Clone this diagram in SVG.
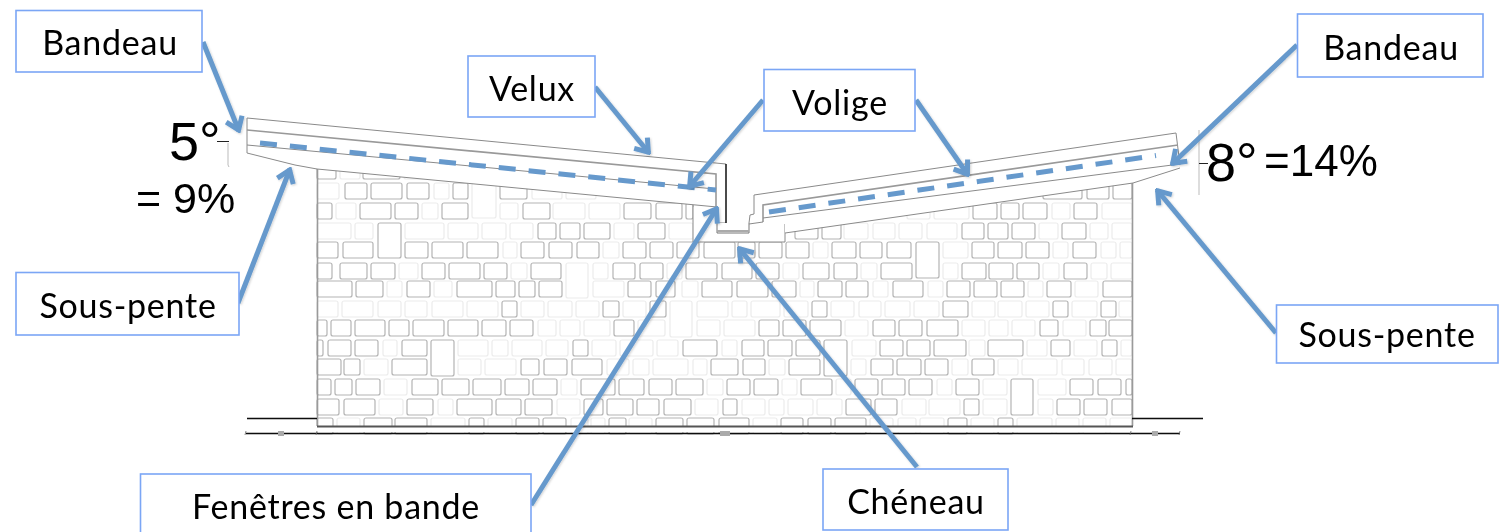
<svg xmlns="http://www.w3.org/2000/svg" width="1499" height="532" viewBox="0 0 1499 532">
<style>
.d,.l{height:16px;rx:2px;fill:#fff;stroke-width:1.2}
.d{stroke:#b4b4b4}
.l{stroke:#ececec}
.t36{height:36px}
.t55{height:35px}
.roof{fill:#fff;stroke:none}
.ln{fill:none;stroke:#8a8a8a;stroke-width:1}
.dk{fill:none;stroke:#555;stroke-width:1.4}
.k{fill:none;stroke:#111;stroke-width:1.5}
.dash{fill:none;stroke:#6699cc;stroke-width:5;stroke-dasharray:17 13}
.box{fill:#fff;stroke:#7ba6f5;stroke-width:1.6}
.lab{font-family:"Lato","Liberation Sans",sans-serif;font-size:34px;letter-spacing:.75px;fill:#000;text-anchor:middle}
.big{font-family:"Liberation Sans",Arial,sans-serif;fill:#000}
.arr{fill:none;stroke:#6699cc;stroke-width:5;marker-end:url(#ah)}
</style>
<defs>
<marker id="ah" markerUnits="userSpaceOnUse" viewBox="-18 -12 20 24" refX="0" refY="0" markerWidth="20" markerHeight="24" orient="auto">
<path d="M-13,-8.5 L-1,0 L-13,8.5" fill="none" stroke="#6699cc" stroke-width="5"/>
</marker>
<filter id="soft" x="-2%" y="-2%" width="104%" height="104%"><feGaussianBlur stdDeviation="0.4"/></filter>
<filter id="sh" x="-10%" y="-10%" width="120%" height="120%"><feDropShadow dx="1" dy="1" stdDeviation="1.2" flood-color="#000" flood-opacity="0.18"/></filter>
</defs>

<g id="facade" filter="url(#soft)">
<g id="bricks">
<g transform="translate(0,163)"><rect class="d" x="317" width="19"/><rect class="l" x="340" width="20"/><rect class="d" x="363" width="37"/><rect class="l" x="404" width="30"/></g>
<g transform="translate(0,183)"><rect class="l" x="317" width="22"/><rect class="d" x="345" width="22"/><rect class="d" x="371" width="31"/><rect class="d" x="407" width="22"/><rect class="l" x="434" width="15"/><rect class="d" x="453" width="15"/><rect class="l t55" x="472" width="24"/><rect class="d" x="500" width="27"/><rect class="l" x="532" width="30"/><rect class="l" x="566" width="30"/><rect class="d" x="1043" width="39"/><rect class="d" x="1087" width="22"/><rect class="d" x="1113" width="19"/></g>
<g transform="translate(0,203)"><rect class="d" x="317" width="15"/><rect class="l" x="336" width="20"/><rect class="d" x="360" width="31"/><rect class="d" x="395" width="23"/><rect class="l" x="422" width="16"/><rect class="d" x="442" width="26"/><rect class="l" x="500" width="18"/><rect class="d" x="523" width="27"/><rect class="l" x="553" width="32"/><rect class="l" x="589" width="31"/><rect class="d" x="624" width="27"/><rect class="d" x="656" width="26"/><rect class="d" x="686" width="7"/><rect class="l" x="907" width="23"/><rect class="l" x="934" width="35"/><rect class="d" x="973" width="24"/><rect class="d" x="1001" width="18"/><rect class="d" x="1023" width="24"/><rect class="l" x="1052" width="18"/><rect class="d" x="1074" width="23"/><rect class="l" x="1102" width="30"/></g>
<g transform="translate(0,223)"><rect class="l" x="317" width="34"/><rect class="l" x="355" width="18"/><rect class="d t55" x="378" width="23"/><rect class="l" x="405" width="39"/><rect class="l" x="448" width="30"/><rect class="l" x="482" width="24"/><rect class="l" x="510" width="23"/><rect class="d" x="538" width="18"/><rect class="d" x="560" width="20"/><rect class="d" x="584" width="26"/><rect class="l" x="614" width="20"/><rect class="d" x="638" width="27"/><rect class="l" x="669" width="24"/><rect class="d" x="795" width="23"/><rect class="d" x="822" width="19"/><rect class="l" x="844" width="24"/><rect class="l" x="873" width="22"/><rect class="l" x="899" width="23"/><rect class="l" x="927" width="30"/><rect class="d" x="962" width="22"/><rect class="d" x="988" width="20"/><rect class="d" x="1012" width="23"/><rect class="l" x="1039" width="19"/><rect class="d" x="1062" width="24"/><rect class="l" x="1090" width="18"/><rect class="l" x="1112" width="20"/></g>
<g transform="translate(0,242)"><rect class="d" x="317" width="21"/><rect class="d" x="343" width="30"/><rect class="d" x="405" width="23"/><rect class="d" x="432" width="31"/><rect class="d" x="467" width="31"/><rect class="l" x="503" width="14"/><rect class="d" x="521" width="23"/><rect class="d" x="549" width="23"/><rect class="d" x="577" width="22"/><rect class="l" x="603" width="16"/><rect class="d" x="623" width="23"/><rect class="d" x="650" width="23"/><rect class="d" x="677" width="22"/><rect class="d" x="704" width="31"/><rect class="d" x="738" width="17"/><rect class="d" x="759" width="23"/><rect class="d" x="786" width="23"/><rect class="l" x="813" width="15"/><rect class="d" x="832" width="24"/><rect class="d" x="860" width="22"/><rect class="d" x="887" width="24"/><rect class="d t36" x="916" width="23"/><rect class="l" x="943" width="25"/><rect class="d" x="972" width="22"/><rect class="d" x="998" width="24"/><rect class="d" x="1026" width="23"/><rect class="l" x="1053" width="15"/><rect class="d" x="1073" width="23"/><rect class="l" x="1101" width="15"/><rect class="l" x="1120" width="12"/></g>
<g transform="translate(0,263)"><rect class="d" x="317" width="15"/><rect class="d" x="340" width="27"/><rect class="d" x="371" width="24"/><rect class="l" x="399" width="19"/><rect class="d" x="422" width="23"/><rect class="d" x="449" width="31"/><rect class="d" x="484" width="23"/><rect class="l" x="511" width="16"/><rect class="d" x="531" width="30"/><rect class="l t55" x="566" width="22"/><rect class="l" x="593" width="15"/><rect class="d" x="613" width="22"/><rect class="d" x="640" width="23"/><rect class="l" x="667" width="15"/><rect class="d" x="686" width="31"/><rect class="d" x="722" width="30"/><rect class="d" x="756" width="23"/><rect class="l" x="783" width="16"/><rect class="d" x="803" width="26"/><rect class="d" x="834" width="23"/><rect class="l" x="861" width="16"/><rect class="d" x="881" width="31"/><rect class="l" x="943" width="15"/><rect class="d" x="962" width="24"/><rect class="d" x="989" width="24"/><rect class="d" x="1017" width="22"/><rect class="l" x="1043" width="16"/><rect class="d" x="1064" width="23"/><rect class="l" x="1091" width="16"/><rect class="l" x="1111" width="21"/></g>
<g transform="translate(0,281)"><rect class="d" x="317" width="35"/><rect class="d" x="356" width="27"/><rect class="l" x="387" width="15"/><rect class="d" x="407" width="23"/><rect class="l" x="434" width="18"/><rect class="d" x="457" width="35"/><rect class="d" x="496" width="19"/><rect class="d" x="519" width="16"/><rect class="d" x="539" width="23"/><rect class="l" x="593" width="31"/><rect class="d" x="628" width="23"/><rect class="d" x="656" width="19"/><rect class="l" x="682" width="16"/><rect class="d" x="702" width="30"/><rect class="d" x="737" width="31"/><rect class="d" x="772" width="24"/><rect class="l" x="800" width="14"/><rect class="d" x="818" width="24"/><rect class="d" x="846" width="22"/><rect class="l" x="873" width="15"/><rect class="d" x="893" width="30"/><rect class="l" x="928" width="15"/><rect class="d" x="947" width="23"/><rect class="d" x="974" width="23"/><rect class="d" x="1001" width="23"/><rect class="l" x="1028" width="15"/><rect class="d" x="1047" width="24"/><rect class="l" x="1075" width="23"/><rect class="d" x="1103" width="29"/></g>
<g transform="translate(0,301)"><rect class="l" x="317" width="21"/><rect class="l" x="342" width="31"/><rect class="l" x="378" width="23"/><rect class="l" x="405" width="22"/><rect class="l" x="432" width="31"/><rect class="l" x="467" width="31"/><rect class="d" x="502" width="15"/><rect class="l" x="521" width="23"/><rect class="l" x="548" width="24"/><rect class="l" x="576" width="23"/><rect class="d" x="603" width="16"/><rect class="l" x="623" width="23"/><rect class="d" x="650" width="16"/><rect class="l t36" x="670" width="22"/><rect class="l" x="697" width="31"/><rect class="l" x="732" width="15"/><rect class="l" x="751" width="29"/><rect class="l" x="784" width="24"/><rect class="d" x="812" width="15"/><rect class="l" x="831" width="23"/><rect class="l" x="859" width="22"/><rect class="l" x="885" width="25"/><rect class="l" x="914" width="25"/><rect class="d" x="943" width="25"/><rect class="l" x="972" width="23"/><rect class="l" x="998" width="24"/><rect class="l" x="1026" width="23"/><rect class="d" x="1053" width="15"/><rect class="l" x="1072" width="25"/><rect class="d" x="1101" width="15"/><rect class="l" x="1119" width="13"/></g>
<g transform="translate(0,320)"><rect class="d" x="317" width="10"/><rect class="d" x="331" width="20"/><rect class="d" x="355" width="30"/><rect class="d" x="389" width="20"/><rect class="d" x="413" width="31"/><rect class="d" x="448" width="30"/><rect class="d" x="482" width="24"/><rect class="d" x="510" width="23"/><rect class="l" x="538" width="18"/><rect class="l" x="560" width="20"/><rect class="l" x="584" width="26"/><rect class="d" x="614" width="20"/><rect class="l" x="638" width="27"/><rect class="l" x="697" width="23"/><rect class="l" x="724" width="31"/><rect class="d" x="759" width="20"/><rect class="d" x="783" width="23"/><rect class="d" x="810" width="31"/><rect class="l" x="845" width="23"/><rect class="d" x="873" width="22"/><rect class="d" x="899" width="23"/><rect class="d" x="927" width="31"/><rect class="l" x="962" width="23"/><rect class="l" x="989" width="19"/><rect class="l" x="1012" width="23"/><rect class="d" x="1040" width="18"/><rect class="l" x="1063" width="23"/><rect class="d" x="1090" width="16"/><rect class="d" x="1109" width="23"/></g>
<g transform="translate(0,340)"><rect class="d" x="317" width="6"/><rect class="d" x="328" width="23"/><rect class="d" x="355" width="23"/><rect class="l" x="383" width="14"/><rect class="d" x="402" width="25"/><rect class="d t36" x="431" width="23"/><rect class="l" x="458" width="30"/><rect class="l" x="492" width="16"/><rect class="l" x="512" width="30"/><rect class="l" x="546" width="22"/><rect class="d" x="573" width="15"/><rect class="l" x="592" width="24"/><rect class="l" x="620" width="33"/><rect class="l" x="657" width="21"/><rect class="d" x="683" width="34"/><rect class="l" x="722" width="15"/><rect class="d" x="742" width="22"/><rect class="d" x="768" width="24"/><rect class="d" x="796" width="24"/><rect class="d t36" x="824" width="23"/><rect class="l" x="852" width="24"/><rect class="d" x="880" width="23"/><rect class="d" x="907" width="23"/><rect class="d" x="934" width="32"/><rect class="l" x="969" width="16"/><rect class="d" x="988" width="35"/><rect class="l" x="1027" width="20"/><rect class="d" x="1051" width="19"/><rect class="l" x="1074" width="23"/><rect class="d" x="1102" width="15"/><rect class="l" x="1121" width="11"/></g>
<g transform="translate(0,359)"><rect class="d" x="317" width="24"/><rect class="d" x="344" width="16"/><rect class="l" x="364" width="24"/><rect class="d" x="392" width="35"/><rect class="l" x="458" width="23"/><rect class="l" x="485" width="31"/><rect class="d" x="521" width="18"/><rect class="d" x="544" width="23"/><rect class="d" x="572" width="30"/><rect class="l" x="607" width="22"/><rect class="l" x="633" width="16"/><rect class="l" x="653" width="35"/><rect class="l" x="693" width="14"/><rect class="d" x="711" width="27"/><rect class="d" x="743" width="22"/><rect class="l" x="769" width="16"/><rect class="d" x="789" width="31"/><rect class="l" x="851" width="15"/><rect class="d" x="871" width="22"/><rect class="d" x="897" width="24"/><rect class="d" x="925" width="23"/><rect class="l" x="952" width="16"/><rect class="d" x="972" width="22"/><rect class="l" x="998" width="20"/><rect class="l" x="1022" width="35"/><rect class="l" x="1062" width="22"/><rect class="l" x="1089" width="23"/><rect class="l" x="1116" width="16"/></g>
<g transform="translate(0,379)"><rect class="d" x="317" width="14"/><rect class="d" x="335" width="17"/><rect class="d" x="356" width="24"/><rect class="l" x="384" width="23"/><rect class="d" x="412" width="26"/><rect class="d" x="442" width="27"/><rect class="d" x="473" width="28"/><rect class="d" x="505" width="24"/><rect class="d" x="533" width="24"/><rect class="l" x="561" width="16"/><rect class="d" x="581" width="34"/><rect class="d" x="619" width="25"/><rect class="d" x="649" width="23"/><rect class="d" x="676" width="27"/><rect class="l" x="707" width="16"/><rect class="d" x="727" width="23"/><rect class="d" x="754" width="24"/><rect class="l" x="782" width="15"/><rect class="d" x="801" width="31"/><rect class="l" x="836" width="15"/><rect class="d" x="855" width="23"/><rect class="d" x="882" width="23"/><rect class="d" x="909" width="23"/><rect class="l" x="937" width="15"/><rect class="d" x="956" width="23"/><rect class="l" x="983" width="24"/><rect class="d t36" x="1011" width="22"/><rect class="l" x="1038" width="28"/><rect class="d" x="1070" width="23"/><rect class="d" x="1098" width="23"/><rect class="d" x="1126" width="6"/></g>
<g transform="translate(0,399)"><rect class="d" x="317" width="22"/><rect class="d" x="344" width="31"/><rect class="l" x="379" width="24"/><rect class="d" x="407" width="26"/><rect class="l" x="438" width="15"/><rect class="d" x="457" width="35"/><rect class="d" x="496" width="25"/><rect class="d" x="525" width="27"/><rect class="l" x="557" width="23"/><rect class="d" x="584" width="19"/><rect class="d" x="607" width="26"/><rect class="d" x="637" width="22"/><rect class="d" x="664" width="27"/><rect class="l" x="695" width="23"/><rect class="d" x="723" width="14"/><rect class="l" x="742" width="23"/><rect class="l" x="769" width="15"/><rect class="l" x="788" width="25"/><rect class="l" x="817" width="25"/><rect class="d" x="846" width="25"/><rect class="d" x="875" width="22"/><rect class="l" x="902" width="24"/><rect class="l" x="929" width="31"/><rect class="d" x="964" width="15"/><rect class="l" x="983" width="24"/><rect class="l" x="1038" width="15"/><rect class="d" x="1057" width="23"/><rect class="d" x="1084" width="23"/><rect class="d" x="1112" width="20"/></g>
<g transform="translate(0,418)"><rect class="d" x="317" width="16"/><rect class="l" x="337" width="23"/><rect class="d" x="364" width="28"/><rect class="d" x="395" width="32"/><rect class="l" x="431" width="34"/><rect class="d" x="469" width="15"/><rect class="l" x="488" width="24"/><rect class="d" x="516" width="23"/><rect class="d" x="543" width="23"/><rect class="l" x="571" width="17"/><rect class="l" x="591" width="14"/><rect class="d" x="609" width="17"/><rect class="l" x="629" width="23"/><rect class="d" x="656" width="27"/><rect class="d" x="687" width="27"/><rect class="d" x="719" width="30"/><rect class="l" x="753" width="24"/><rect class="d" x="781" width="22"/><rect class="d" x="808" width="23"/><rect class="d" x="835" width="31"/><rect class="l" x="870" width="23"/><rect class="l" x="898" width="18"/><rect class="l" x="920" width="24"/><rect class="d" x="948" width="19"/><rect class="l" x="971" width="23"/><rect class="d" x="998" width="15"/><rect class="l" x="1017" width="35"/><rect class="l" x="1056" width="23"/><rect class="l" x="1083" width="23"/><rect class="l" x="1110" width="22"/></g>
</g>
<rect x="300" y="426" width="850" height="6" fill="#fff"/>
<path class="ln" d="M317.5,168V426M1132.5,183V426" style="stroke:#9a9a9a;stroke-width:1.6"/>
<path class="dk" d="M317,426.5H1133" style="stroke-width:1.8"/>
<path class="k" d="M247,418.5H317M1132,418.5H1203" style="stroke-width:1.4"/>
<path class="k" d="M246,433.5H1180" style="stroke-width:1.4"/>
<path d="M278,431h6v5h-6zM720,431h10v5h-10zM1152,431h6v5h-6z" fill="#aaa"/>
<path class="ln" d="M246,431l-1,4M317,431l-1,4M1131,431l-1,4M1180,431l-1,4" style="stroke:#666;stroke-width:.8"/>
<path class="ln" d="M217,141.5H229" style="stroke:#222"/>
<path class="ln" d="M228,143V165l1,2" style="stroke:#bbb"/>
<path class="ln" d="M1199,130l0,65" style="stroke:#bbb"/>
<path class="ln" d="M1199,163.5H1208" style="stroke:#222"/>
<g id="roof-left">
<path class="roof" d="M247,118L726,164V223H717V207L317,169L247,153Z"/>
<path class="ln" d="M247,118L726,164M247,118V153L295,165L317,169L717,207"/>
<path class="ln" d="M247,130L716,174V207" style="stroke:#999;stroke-width:1.6"/>
<path class="ln" d="M247,145L715,189"/>
<path class="k" d="M726,164V223.5H717V207"/>
</g>
<g id="gutter">
<path class="roof" d="M693,207L717,209V223H748V223L785,218V242H693Z"/>
<path class="ln" d="M693,205V242H785V217"/>
<path class="ln" d="M717,223V233H749V223" style="stroke:#777"/>
<path class="ln" d="M717,231H749" style="stroke:#aaa;stroke-width:2"/>
</g>
<g id="roof-right">
<path class="roof" d="M754,195L1176,133L1180,168L1133,183L785,233V224H750V215L754,214Z"/>
<path class="ln" d="M749,223L750,215L754,214V195L1176,133L1180,165"/>
<path class="ln" d="M763,222V205L1178,145" style="stroke:#999;stroke-width:1.6"/>
<path class="ln" d="M749,224L763,222M763,218L1180,164"/>
<path class="ln" d="M785,233L1133,183L1180,168"/>
</g>
<path class="dash" d="M260,143L716,190"/>
<path class="dash" d="M769,212L1156,155.500"/>
</g>

<g id="connectors" filter="url(#sh)">
<path class="arr" d="M203,42L239,131"/>
<path class="arr" d="M238,303L290,169"/>
<path class="arr" d="M595,87L649,153"/>
<path class="arr" d="M763,100L689,187"/>
<path class="arr" d="M916,100L968,175"/>
<path class="arr" d="M1297,45L1172,164"/>
<path class="arr" d="M1276,333L1157,190"/>
<path class="arr" d="M531,505L717,208"/>
<path class="arr" d="M917,467L739,248"/>
</g>

<g id="angle-left"><text class="big" x="169" y="160" font-size="54">5°</text><text class="big" x="136" y="213" font-size="43">= 9%</text></g>
<g id="angle-right"><text class="big" x="1206" y="181" font-size="54">8°</text><text class="big" x="1264" y="176" font-size="44">=14%</text></g>

<g id="n-bandeau-left"><rect class="box" x="16" y="10.500" width="186" height="61.500"/><text class="lab" x="110" y="55">Bandeau</text></g>
<g id="n-velux"><rect class="box" x="468" y="56" width="127" height="61"/><text class="lab" x="532" y="101">Velux</text></g>
<g id="n-volige"><rect class="box" x="764" y="69.500" width="151" height="61.500"/><text class="lab" x="840" y="115">Volige</text></g>
<g id="n-bandeau-right"><rect class="box" x="1297.500" y="14" width="185.500" height="63"/><text class="lab" x="1391" y="60">Bandeau</text></g>
<g id="n-sous-pente-left"><rect class="box" x="16" y="272.500" width="223" height="62.500"/><text class="lab" x="128" y="318">Sous-pente</text></g>
<g id="n-sous-pente-right"><rect class="box" x="1276.500" y="305" width="221.500" height="58"/><text class="lab" x="1387" y="347">Sous-pente</text></g>
<g id="n-cheneau"><rect class="box" x="823" y="469" width="185" height="61"/><text class="lab" x="916" y="514">Chéneau</text></g>
<g id="n-fenetres"><rect class="box" x="140.500" y="474" width="390.500" height="70"/><text class="lab" x="336" y="519">Fenêtres en bande</text></g>
</svg>
